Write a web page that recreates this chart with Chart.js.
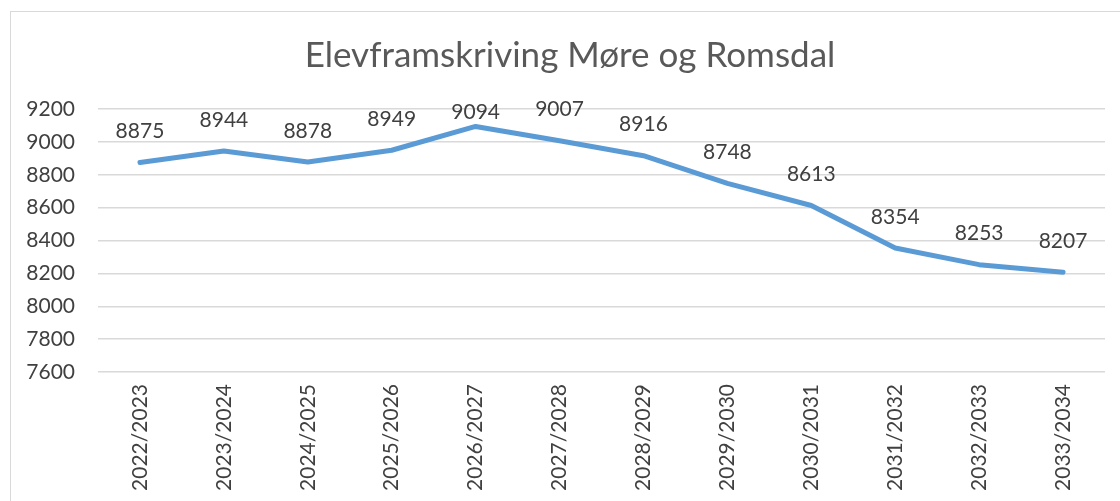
<!DOCTYPE html>
<html lang="nb">
<head>
  <meta charset="UTF-8" />
  <title>Elevframskriving Møre og Romsdal</title>
  <script src="https://cdn.jsdelivr.net/npm/chart.js"></script>
  <style>
    html, body { margin: 0; padding: 0; background: #fff; }
    .frame { position: absolute; left: 10px; top: 11px; width: 1130px; height: 520px; border: 1px solid #d9d9d9; }
    .wrap { position: absolute; left: 0; top: 0; width: 1120px; height: 501px; }
  </style>
</head>
<body>
  <div class="frame"></div>
  <div class="wrap"><canvas id="elevChart" width="1120" height="501"></canvas></div>

  <script>
    // data
    const skoleaar = ['2022/2023', '2023/2024', '2024/2025', '2025/2026', '2026/2027', '2027/2028',
                      '2028/2029', '2029/2030', '2030/2031', '2031/2032', '2032/2033', '2033/2034'];
    const elevtal = [8875, 8944, 8878, 8949, 9094, 9007, 8916, 8748, 8613, 8354, 8253, 8207];
    const yMin = 7600, yMax = 9200, yStep = 200;
    const tittel = 'Elevframskriving Møre og Romsdal';

    const textColor = '#404040';
    const fontFamily = 'Lato, "Open Sans", sans-serif';

    // title (centred over the frame, not the canvas) + value labels above each point
    const labelPlugin = {
      id: 'valueLabels',
      afterDatasetsDraw(chart) {
        const ctx = chart.ctx;
        const meta = chart.getDatasetMeta(0);
        ctx.save();
        ctx.textAlign = 'center';
        ctx.textBaseline = 'middle';
        ctx.font = '35px ' + fontFamily;
        ctx.fillStyle = '#595959';
        ctx.fillText(tittel, 570, 56);

        ctx.font = '21px ' + fontFamily;
        ctx.fillStyle = textColor;
        meta.data.forEach((pt, i) => {
          let y = pt.y - 31;
          if (y < 100) y = pt.y - 14; // keep inside the frame like Excel does
          ctx.fillText(String(elevtal[i]), pt.x, y);
        });
        ctx.restore();
      }
    };

    new Chart(document.getElementById('elevChart'), {
      type: 'line',
      data: {
        labels: skoleaar,
        datasets: [{
          data: elevtal,
          borderColor: '#5b9bd5',
          borderWidth: 5,
          borderCapStyle: 'round',
          borderJoinStyle: 'round',
          pointRadius: 0,
          tension: 0,
          fill: false
        }]
      },
      options: {
        responsive: false,
        animation: false,
        layout: { padding: { left: 0, right: 15, top: 109, bottom: 0 } },
        plugins: {
          legend: { display: false },
          tooltip: { enabled: false },
          title: { display: false }
        },
        scales: {
          x: {
            offset: true,
            grid: { display: false, drawTicks: false },
            border: { display: false },
            ticks: {
              color: textColor,
              font: { family: fontFamily, size: 21 },
              minRotation: 90, maxRotation: 90,
              padding: 12,
              autoSkip: false
            },
            afterFit(scale) { scale.height = 129; }
          },
          y: {
            min: yMin, max: yMax,
            grid: { color: '#d9d9d9', lineWidth: 1.5, drawTicks: false },
            border: { display: false },
            ticks: {
              stepSize: yStep,
              color: textColor,
              font: { family: fontFamily, size: 21 },
              padding: 23,
              callback: v => String(v)
            },
            afterFit(scale) { scale.width = 98; }
          }
        }
      },
      plugins: [labelPlugin]
    });
  </script>
</body>
</html>
